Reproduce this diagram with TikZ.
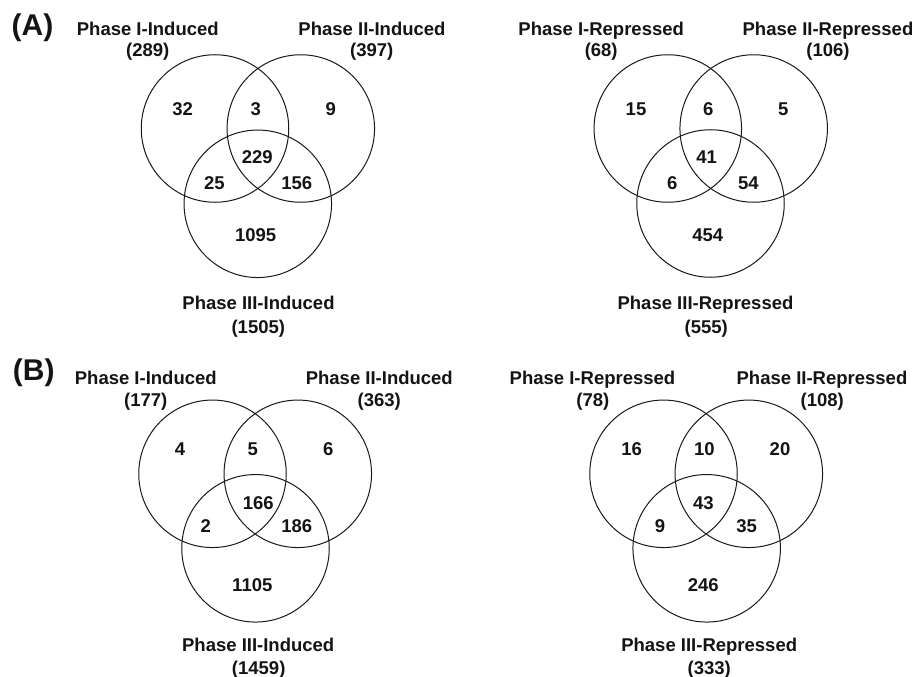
\documentclass[tikz,border=0pt]{standalone}
\usepackage{fontspec}
\setmainfont{Liberation Sans}
\begin{document}
\begin{tikzpicture}[x=1pt,y=-1pt,
  venn/.style={draw=black!90,line width=1pt,circle,minimum size=147.5pt,inner sep=0pt},
  lab/.style={anchor=base,inner sep=0pt,font=\fontsize{18.5}{20}\selectfont\bfseries,text=black!92},
  num/.style={lab},
  panel/.style={anchor=base,inner sep=0pt,font=\fontsize{30}{32}\selectfont\bfseries,text=black!92}]
\useasboundingbox (0,0) rectangle (914,677);

% ---------------- (A) ----------------
\node[panel] (pA) at (32.5,36) {(A)};

% induced, panel A
\node[venn] (a1) at (215,128.5) {};
\node[venn] (a2) at (300.8,128.5) {};
\node[venn] (a3) at (257.8,203.8) {};
\node[lab] (a1t) at (147.8,35.5) {Phase I-Induced};
\node[lab] (a1n) at (147.8,57) {(289)};
\node[lab] (a2t) at (372,35.5) {Phase II-Induced};
\node[lab] (a2n) at (371.7,57) {(397)};
\node[lab] (a3t) at (258.5,309.3) {Phase III-Induced};
\node[lab] (a3n) at (258.3,333) {(1505)};
\node[num] (a100) at (182.7,115) {32};
\node[num] (a110) at (255.7,115) {3};
\node[num] (a010) at (330.7,115) {9};
\node[num] (a111) at (257.3,164) {229};
\node[num] (a101) at (214.3,189) {25};
\node[num] (a011) at (296.7,189) {156};
\node[num] (a001) at (255.7,241) {1095};

% repressed, panel A
\node[venn] (r1) at (667.8,128.5) {};
\node[venn] (r2) at (753.7,128.5) {};
\node[venn] (r3) at (710.5,203.5) {};
\node[lab] (r1t) at (601.2,35.5) {Phase I-Repressed};
\node[lab] (r1n) at (601.2,57) {(68)};
\node[lab] (r2t) at (828,35.5) {Phase II-Repressed};
\node[lab] (r2n) at (828,57) {(106)};
\node[lab] (r3t) at (705.5,309.3) {Phase III-Repressed};
\node[lab] (r3n) at (706.3,333) {(555)};
\node[num] (r100) at (636,115) {15};
\node[num] (r110) at (708.3,115) {6};
\node[num] (r010) at (783.3,115) {5};
\node[num] (r111) at (706.7,164) {41};
\node[num] (r101) at (672.3,189) {6};
\node[num] (r011) at (748.3,189) {54};
\node[num] (r001) at (707.7,241) {454};

% ---------------- (B) ----------------
\node[panel] (pB) at (33.8,380.5) {(B)};

% induced, panel B
\node[venn] (b1) at (212.5,473.8) {};
\node[venn] (b2) at (297.8,473.8) {};
\node[venn] (b3) at (255.5,548.3) {};
\node[lab] (b1t) at (145.8,384.3) {Phase I-Induced};
\node[lab] (b1n) at (145.8,406.6) {(177)};
\node[lab] (b2t) at (379.3,384.3) {Phase II-Induced};
\node[lab] (b2n) at (379.2,406.6) {(363)};
\node[lab] (b3t) at (258.2,651.6) {Phase III-Induced};
\node[lab] (b3n) at (258.7,674.3) {(1459)};
\node[num] (b100) at (180,455.6) {4};
\node[num] (b110) at (252.7,455.6) {5};
\node[num] (b010) at (328.3,455.6) {6};
\node[num] (b111) at (258.3,509.3) {166};
\node[num] (b101) at (205.7,532.6) {2};
\node[num] (b011) at (296.7,532.6) {186};
\node[num] (b001) at (252.3,591.6) {1105};

% repressed, panel B
\node[venn] (s1) at (663.5,473.8) {};
\node[venn] (s2) at (748.8,473.8) {};
\node[venn] (s3) at (706.7,548.3) {};
\node[lab] (s1t) at (592.5,384.3) {Phase I-Repressed};
\node[lab] (s1n) at (592.8,406.6) {(78)};
\node[lab] (s2t) at (822,384.3) {Phase II-Repressed};
\node[lab] (s2n) at (822.3,406.6) {(108)};
\node[lab] (s3t) at (709.2,651.6) {Phase III-Repressed};
\node[lab] (s3n) at (709.2,674.3) {(333)};
\node[num] (s100) at (631.7,455.6) {16};
\node[num] (s110) at (704.3,455.6) {10};
\node[num] (s010) at (780,455.6) {20};
\node[num] (s111) at (703.3,509.3) {43};
\node[num] (s101) at (660,532.6) {9};
\node[num] (s011) at (746.7,532.6) {35};
\node[num] (s001) at (703.3,591.6) {246};
\end{tikzpicture}
\end{document}
